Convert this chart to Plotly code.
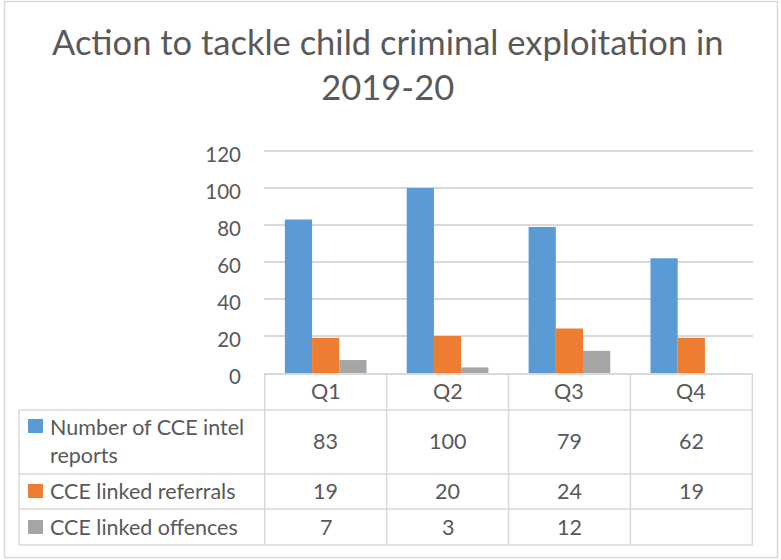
import plotly.graph_objects as go

# ---- data ----
quarters = ["Q1", "Q2", "Q3", "Q4"]
series_names = ["Number of CCE intel reports", "CCE linked referrals", "CCE linked offences"]
intel_reports = [83, 100, 79, 62]
linked_referrals = [19, 20, 24, 19]
linked_offences = [7, 3, 12, None]
series_values = [intel_reports, linked_referrals, linked_offences]
series_colors = ["#5B9BD5", "#ED7D31", "#A5A5A5"]
y_ticks = [0, 20, 40, 60, 80, 100, 120]
y_max = 120.6  # a little headroom so the top gridline is not clipped

# ---- geometry (pixels of the 781x560 page) ----
W, H = 781, 560
L, R, T, B = 264, 753, 150, 373          # plot area
TEXT = "#595959"
GRID = "#D9D9D9"
FONT = "Lato"
TABLE_SIZE = 21.5


def px_x(px):
    return (px - L) / (R - L)


def px_y(py):
    return (B - py) / (B - T)


fig = go.Figure()
for name, vals, col in zip(series_names, series_values, series_colors):
    fig.add_trace(go.Bar(name=name, x=quarters, y=vals, marker_color=col,
                         marker_line_width=0))

shapes = []
annotations = []

# chart title
annotations.append(dict(x=px_x(388), y=px_y(64), xref="paper", yref="paper",
                        xanchor="center", yanchor="middle", showarrow=False,
                        text="Action to tackle child criminal exploitation in<br>2019-20",
                        font=dict(size=34.5, color=TEXT, family=FONT)))

# outer chart border
shapes.append(dict(type="rect", xref="paper", yref="paper",
                   x0=px_x(4.5), x1=px_x(777.5), y0=px_y(557.5), y1=px_y(1.5),
                   line=dict(color=GRID, width=1.5), fillcolor="rgba(0,0,0,0)"))

# data table grid
row_edges = [410, 474, 509, 545]
for py in row_edges:
    shapes.append(dict(type="line", xref="paper", yref="paper",
                       x0=px_x(19), x1=px_x(R), y0=px_y(py), y1=px_y(py),
                       line=dict(color=GRID, width=1.5)))
shapes.append(dict(type="line", xref="paper", yref="paper",
                   x0=px_x(19), x1=px_x(19), y0=px_y(410), y1=px_y(545),
                   line=dict(color=GRID, width=1.5)))
for i in range(len(quarters) + 1):
    shapes.append(dict(type="line", xref="x", yref="paper",
                       x0=i - 0.5, x1=i - 0.5, y0=px_y(B), y1=px_y(545),
                       line=dict(color=GRID, width=1.5)))

# header row: quarter names
for q in quarters:
    annotations.append(dict(x=q, y=px_y(391), xref="x", yref="paper", text=q,
                            xanchor="center", yanchor="middle", showarrow=False,
                            font=dict(size=TABLE_SIZE, color=TEXT, family=FONT)))

# series rows
row_centres = [441, 491, 527]
label_lines = [["Number of CCE intel", "reports"], ["CCE linked referrals"], ["CCE linked offences"]]
square_tops = [419, 484, 520]
for label, vals, col, yc, sq in zip(label_lines, series_values, series_colors,
                                     row_centres, square_tops):
    shapes.append(dict(type="rect", xref="paper", yref="paper",
                       x0=px_x(28), x1=px_x(43), y0=px_y(sq + 14), y1=px_y(sq),
                       line=dict(width=0), fillcolor=col))
    annotations.append(dict(x=px_x(48), y=px_y(yc), xref="paper", yref="paper",
                            text="<br>".join(label), align="left", xanchor="left",
                            yanchor="middle", showarrow=False,
                            font=dict(size=TABLE_SIZE, color=TEXT, family=FONT)))
    for q, v in zip(quarters, vals):
        if v is None:
            continue
        annotations.append(dict(x=q, y=px_y(yc), xref="x", yref="paper", text=str(v),
                                xanchor="center", yanchor="middle", showarrow=False,
                                font=dict(size=TABLE_SIZE, color=TEXT, family=FONT)))

fig.update_layout(
    width=W, height=H,
    margin=dict(l=L, r=W - R, t=T, b=H - B, pad=0),
    paper_bgcolor="white", plot_bgcolor="white",
    barmode="group", bargap=0.33, bargroupgap=0,
    showlegend=False,
    font=dict(family=FONT, color=TEXT),
    shapes=shapes, annotations=annotations,
)
fig.update_xaxes(showticklabels=False, showline=True, linecolor=GRID, linewidth=1.5,
                 showgrid=False, ticks="", fixedrange=True)
fig.update_yaxes(range=[0, y_max], tickvals=y_ticks, showgrid=True, gridcolor=GRID,
                 gridwidth=1.5, zeroline=False, ticks="", ticklabelstandoff=22,
                 ticklabelshift=4,
                 tickfont=dict(size=20.5, color=TEXT, family=FONT), fixedrange=True)

fig.write_html("out.html")
